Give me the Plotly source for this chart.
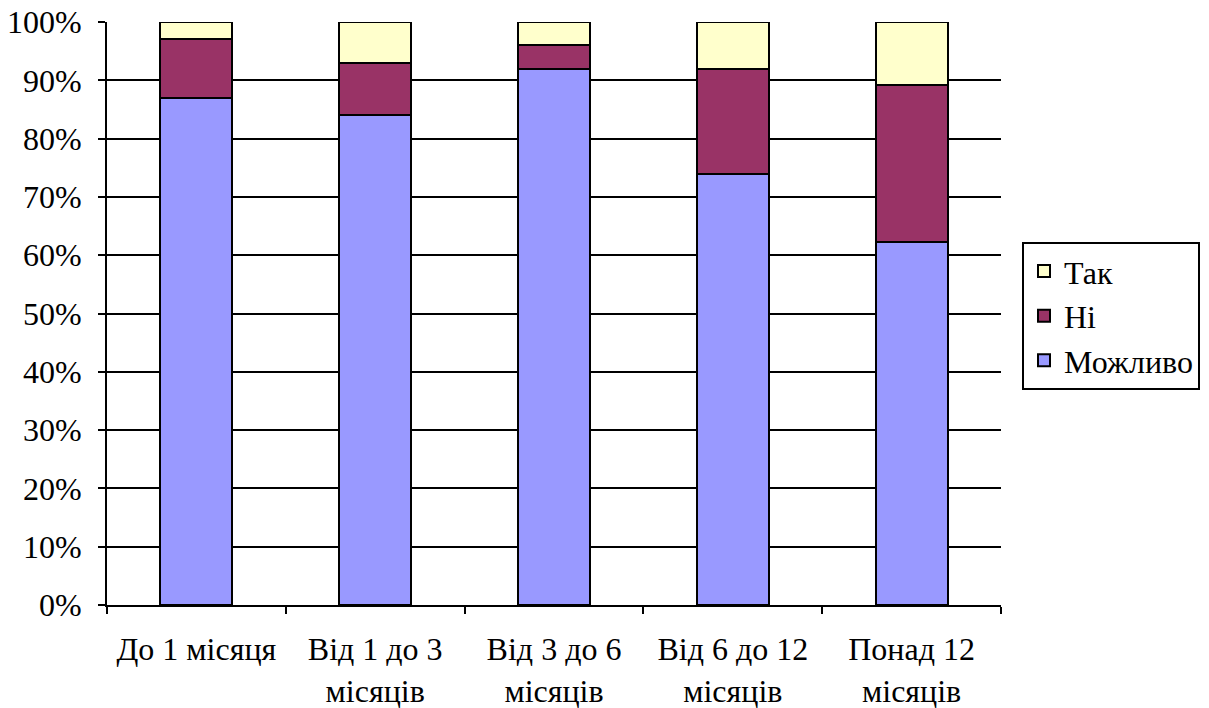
import plotly.graph_objects as go

categories = ["До 1 місяця", "Від 1 до 3<br>місяців", "Від 3 до 6<br>місяців", "Від 6 до 12<br>місяців", "Понад 12<br>місяців"]
mozhlyvo = [87, 84, 92, 74, 62.2]
ni = [10, 9, 4, 18, 27.0]
tak = [3, 7, 4, 8, 10.8]
y_ticks = [0, 10, 20, 30, 40, 50, 60, 70, 80, 90, 100]
y_tick_labels = [f"{v}%" for v in y_ticks]

FONT = "Times New Roman, Liberation Serif, serif"
FS = 32

fig = go.Figure()
fig.add_trace(go.Bar(name="Можливо", x=categories, y=mozhlyvo,
                     marker=dict(color="#9999FF", line=dict(color="black", width=2))))
fig.add_trace(go.Bar(name="Ні", x=categories, y=ni,
                     marker=dict(color="#993366", line=dict(color="black", width=2))))
fig.add_trace(go.Bar(name="Так", x=categories, y=tak,
                     marker=dict(color="#FFFFCC", line=dict(color="black", width=2))))

fig.update_layout(
    barmode="stack",
    bargap=0.597,
    width=1209, height=708,
    margin=dict(l=107, r=208, t=22, b=103, autoexpand=False),
    paper_bgcolor="white", plot_bgcolor="white",
    font=dict(family=FONT, size=FS, color="black"),
    legend=dict(x=1.0235, y=0.623, xanchor="left", yanchor="top",
                traceorder="reversed", bordercolor="black", borderwidth=2,
                font=dict(family=FONT, size=FS, color="black"), tracegroupgap=0,
                itemwidth=30),
    showlegend=True,
)
fig.update_xaxes(
    type="category", showline=True, linecolor="black", linewidth=2,
    ticks="outside", tickson="boundaries", ticklen=7, tickwidth=2, tickcolor="black",
    showgrid=False, tickfont=dict(family=FONT, size=FS, color="black"),
    automargin=False, ticklabelstandoff=15,
)
fig.update_yaxes(
    range=[0, 100], tickvals=y_ticks, ticktext=y_tick_labels,
    showline=True, linecolor="black", linewidth=2,
    ticks="outside", ticklen=7, tickwidth=2, tickcolor="black",
    showgrid=True, gridcolor="black", gridwidth=2,
    tickfont=dict(family=FONT, size=FS, color="black"), zeroline=False,
    automargin=False, ticklabelstandoff=10,
)

fig.write_html("out.html", config={"displayModeBar": False},
               post_script="document.body.style.margin='0';document.body.style.overflow='hidden';")
